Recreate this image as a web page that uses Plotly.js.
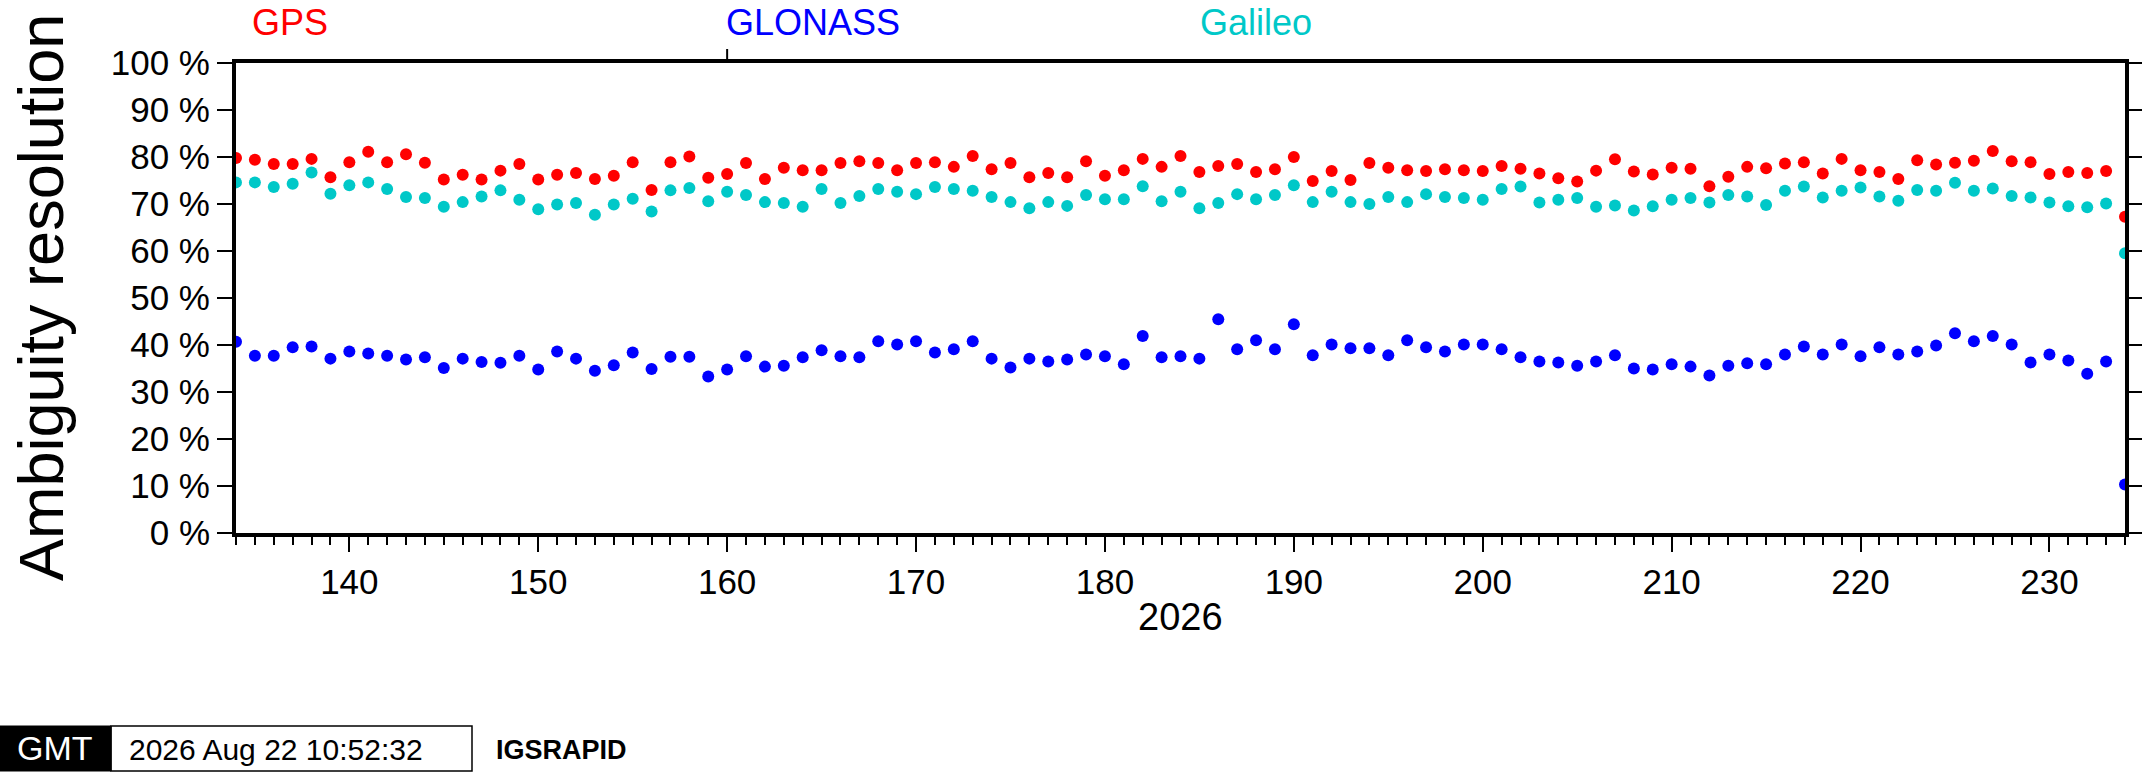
<!DOCTYPE html>
<html>
<head>
<meta charset="utf-8">
<script src="https://cdn.plot.ly/plotly-3.0.1.min.js"></script>
<style>
html,body{margin:0;padding:0;background:#fff;}
#chart{width:2142px;height:772px;}
</style>
</head>
<body>
<div id="chart"></div>
<script>
const days = [134,135,136,137,138,139,140,141,142,143,144,145,146,147,148,149,150,151,152,153,
154,155,156,157,158,159,160,161,162,163,164,165,166,167,168,169,170,171,172,173,
174,175,176,177,178,179,180,181,182,183,184,185,186,187,188,189,190,191,192,193,
194,195,196,197,198,199,200,201,202,203,204,205,206,207,208,209,210,211,212,213,
214,215,216,217,218,219,220,221,222,223,224,225,226,227,228,229,230,231,232,233,234];

const gps = [79.8,79.4,78.5,78.5,79.6,75.7,78.9,81.1,78.9,80.6,78.8,75.2,76.2,75.2,77.1,78.5,75.2,76.2,76.6,75.3,
76.0,78.9,73.0,78.9,80.1,75.6,76.4,78.7,75.3,77.7,77.2,77.2,78.7,79.1,78.7,77.2,78.7,78.9,77.9,80.2,
77.4,78.7,75.7,76.6,75.7,79.1,76.0,77.2,79.6,77.9,80.2,76.8,78.1,78.5,76.8,77.4,80.0,74.9,77.0,75.1,
78.7,77.7,77.2,77.0,77.4,77.2,77.0,78.1,77.5,76.5,75.5,74.8,77.1,79.5,76.9,76.3,77.7,77.5,73.8,75.8,
77.9,77.6,78.6,78.9,76.5,79.6,77.2,76.8,75.3,79.3,78.4,78.8,79.2,81.3,79.1,78.9,76.4,76.8,76.6,77.0,67.3];

const glonass = [40.7,37.7,37.7,39.5,39.7,37.1,38.6,38.2,37.7,36.9,37.4,35.1,37.1,36.4,36.2,37.7,34.8,38.6,37.1,34.5,
35.7,38.4,34.9,37.5,37.5,33.3,34.8,37.6,35.4,35.6,37.4,38.9,37.6,37.4,40.8,40.1,40.8,38.4,39.1,40.8,
37.1,35.2,37.1,36.5,36.9,38.0,37.6,35.9,41.9,37.4,37.6,37.1,45.5,39.1,41.0,39.1,44.4,37.8,40.1,39.3,
39.3,37.8,41.0,39.5,38.6,40.1,40.1,39.1,37.4,36.5,36.3,35.6,36.5,37.8,35.0,34.8,35.9,35.4,33.5,35.6,
36.1,35.9,38.0,39.7,38.0,40.1,37.6,39.5,38.0,38.6,39.9,42.5,40.8,41.9,40.1,36.3,38.0,36.7,33.9,36.5,10.3];

const galileo = [74.6,74.6,73.6,74.3,76.7,72.2,74.0,74.6,73.2,71.5,71.3,69.4,70.4,71.6,72.9,70.9,68.9,69.9,70.2,67.7,
69.9,71.1,68.4,72.9,73.4,70.6,72.6,71.9,70.4,70.2,69.4,73.2,70.2,71.7,73.2,72.6,72.1,73.6,73.2,72.8,
71.5,70.4,69.1,70.4,69.6,71.9,71.0,71.0,73.8,70.6,72.6,69.1,70.2,72.1,71.0,71.9,74.0,70.4,72.6,70.4,
70.0,71.5,70.4,72.1,71.5,71.3,70.9,73.2,73.7,70.3,70.9,71.3,69.4,69.7,68.6,69.5,70.9,71.3,70.3,71.9,
71.6,69.8,72.8,73.7,71.4,72.8,73.5,71.6,70.7,73.0,72.8,74.5,72.8,73.3,71.7,71.4,70.3,69.5,69.3,70.1,59.5];

const seriesNames = ['GPS','GLONASS','Galileo'];
const seriesColors = ['#ff0000','#0000ff','#00c8c8'];
const seriesValues = [gps, glonass, galileo];

const W = 2142, H = 772;
const L = 236, R = 2125, T = 63, B = 533;
const px = x => (x - L) / (R - L);
const py = y => (B - y) / (B - T);
const FONT = 'Liberation Sans, Arial, Helvetica, sans-serif';

const traces = seriesValues.map((vals, i) => ({
  type: 'scatter',
  mode: 'markers',
  x: days,
  y: vals,
  name: seriesNames[i],
  marker: {color: seriesColors[i], size: 12, line: {width: 0}},
  cliponaxis: true,
  hoverinfo: 'x+y'
}));

const labelX = [250, 724, 1198];
const annotations = seriesNames.map((n, i) => ({
  text: n, xref: 'paper', yref: 'paper', x: px(labelX[i]), y: py(0),
  xanchor: 'left', yanchor: 'top', showarrow: false,
  font: {family: FONT, size: 36, color: seriesColors[i]}
}));

annotations.push({
  text: 'Ambiguity resolution', xref: 'paper', yref: 'paper',
  x: px(41), y: py(298), xanchor: 'center', yanchor: 'middle',
  textangle: -90, showarrow: false,
  font: {family: FONT, size: 63, color: '#000'}
});
annotations.push({
  text: '2026', xref: 'paper', yref: 'paper',
  x: px(1180), y: py(617), xanchor: 'center', yanchor: 'middle',
  showarrow: false, font: {family: FONT, size: 38, color: '#000'}
});
annotations.push({
  text: '2026 Aug 22 10:52:32', xref: 'paper', yref: 'paper',
  x: px(127), y: py(749), xanchor: 'left', yanchor: 'middle',
  showarrow: false, font: {family: FONT, size: 30, color: '#000'}
});
annotations.push({
  text: '<b>IGSRAPID</b>', xref: 'paper', yref: 'paper',
  x: px(494), y: py(750), xanchor: 'left', yanchor: 'middle',
  showarrow: false, font: {family: FONT, size: 27, color: '#000'}
});
annotations.push({
  text: 'GMT', xref: 'paper', yref: 'paper',
  x: px(55), y: py(748), xanchor: 'center', yanchor: 'middle',
  showarrow: false, font: {family: FONT, size: 34, color: '#fff'}
});

const shapes = [
  {type: 'line', xref: 'x', yref: 'paper', x0: 160, x1: 160, y0: 1, y1: py(49),
   line: {color: '#000', width: 2}},
  {type: 'rect', xref: 'paper', yref: 'paper', x0: px(0), x1: px(111), y0: py(771), y1: py(726),
   fillcolor: '#000', line: {color: '#000', width: 1}},
  {type: 'rect', xref: 'paper', yref: 'paper', x0: px(111), x1: px(472), y0: py(771), y1: py(726),
   fillcolor: 'rgba(0,0,0,0)', line: {color: '#000', width: 1.5}}
];

const layout = {
  width: W, height: H,
  margin: {l: L, r: W - R, t: T, b: H - B, pad: 0},
  paper_bgcolor: '#fff', plot_bgcolor: '#fff',
  showlegend: false,
  font: {family: FONT, color: '#000'},
  xaxis: {
    range: [134, 234], showgrid: false, zeroline: false,
    showline: true, linecolor: '#000', linewidth: 4, mirror: true,
    ticks: 'outside', ticklen: 15, tickwidth: 2, tickcolor: '#000',
    tick0: 0, dtick: 10,
    minor: {ticks: 'outside', dtick: 1, tick0: 0, ticklen: 8, tickwidth: 2, tickcolor: '#000'},
    tickfont: {family: FONT, size: 35, color: '#000'}
  },
  yaxis: {
    range: [0, 100], showgrid: false, zeroline: false,
    showline: true, linecolor: '#000', linewidth: 4, mirror: 'ticks',
    ticks: 'outside', ticklen: 15, tickwidth: 2, tickcolor: '#000',
    tick0: 0, dtick: 10, ticksuffix: ' %',
    tickfont: {family: FONT, size: 35, color: '#000'}
  },
  annotations: annotations,
  shapes: shapes
};

Plotly.newPlot('chart', traces, layout, {staticPlot: true, displayModeBar: false});
</script>
</body>
</html>
